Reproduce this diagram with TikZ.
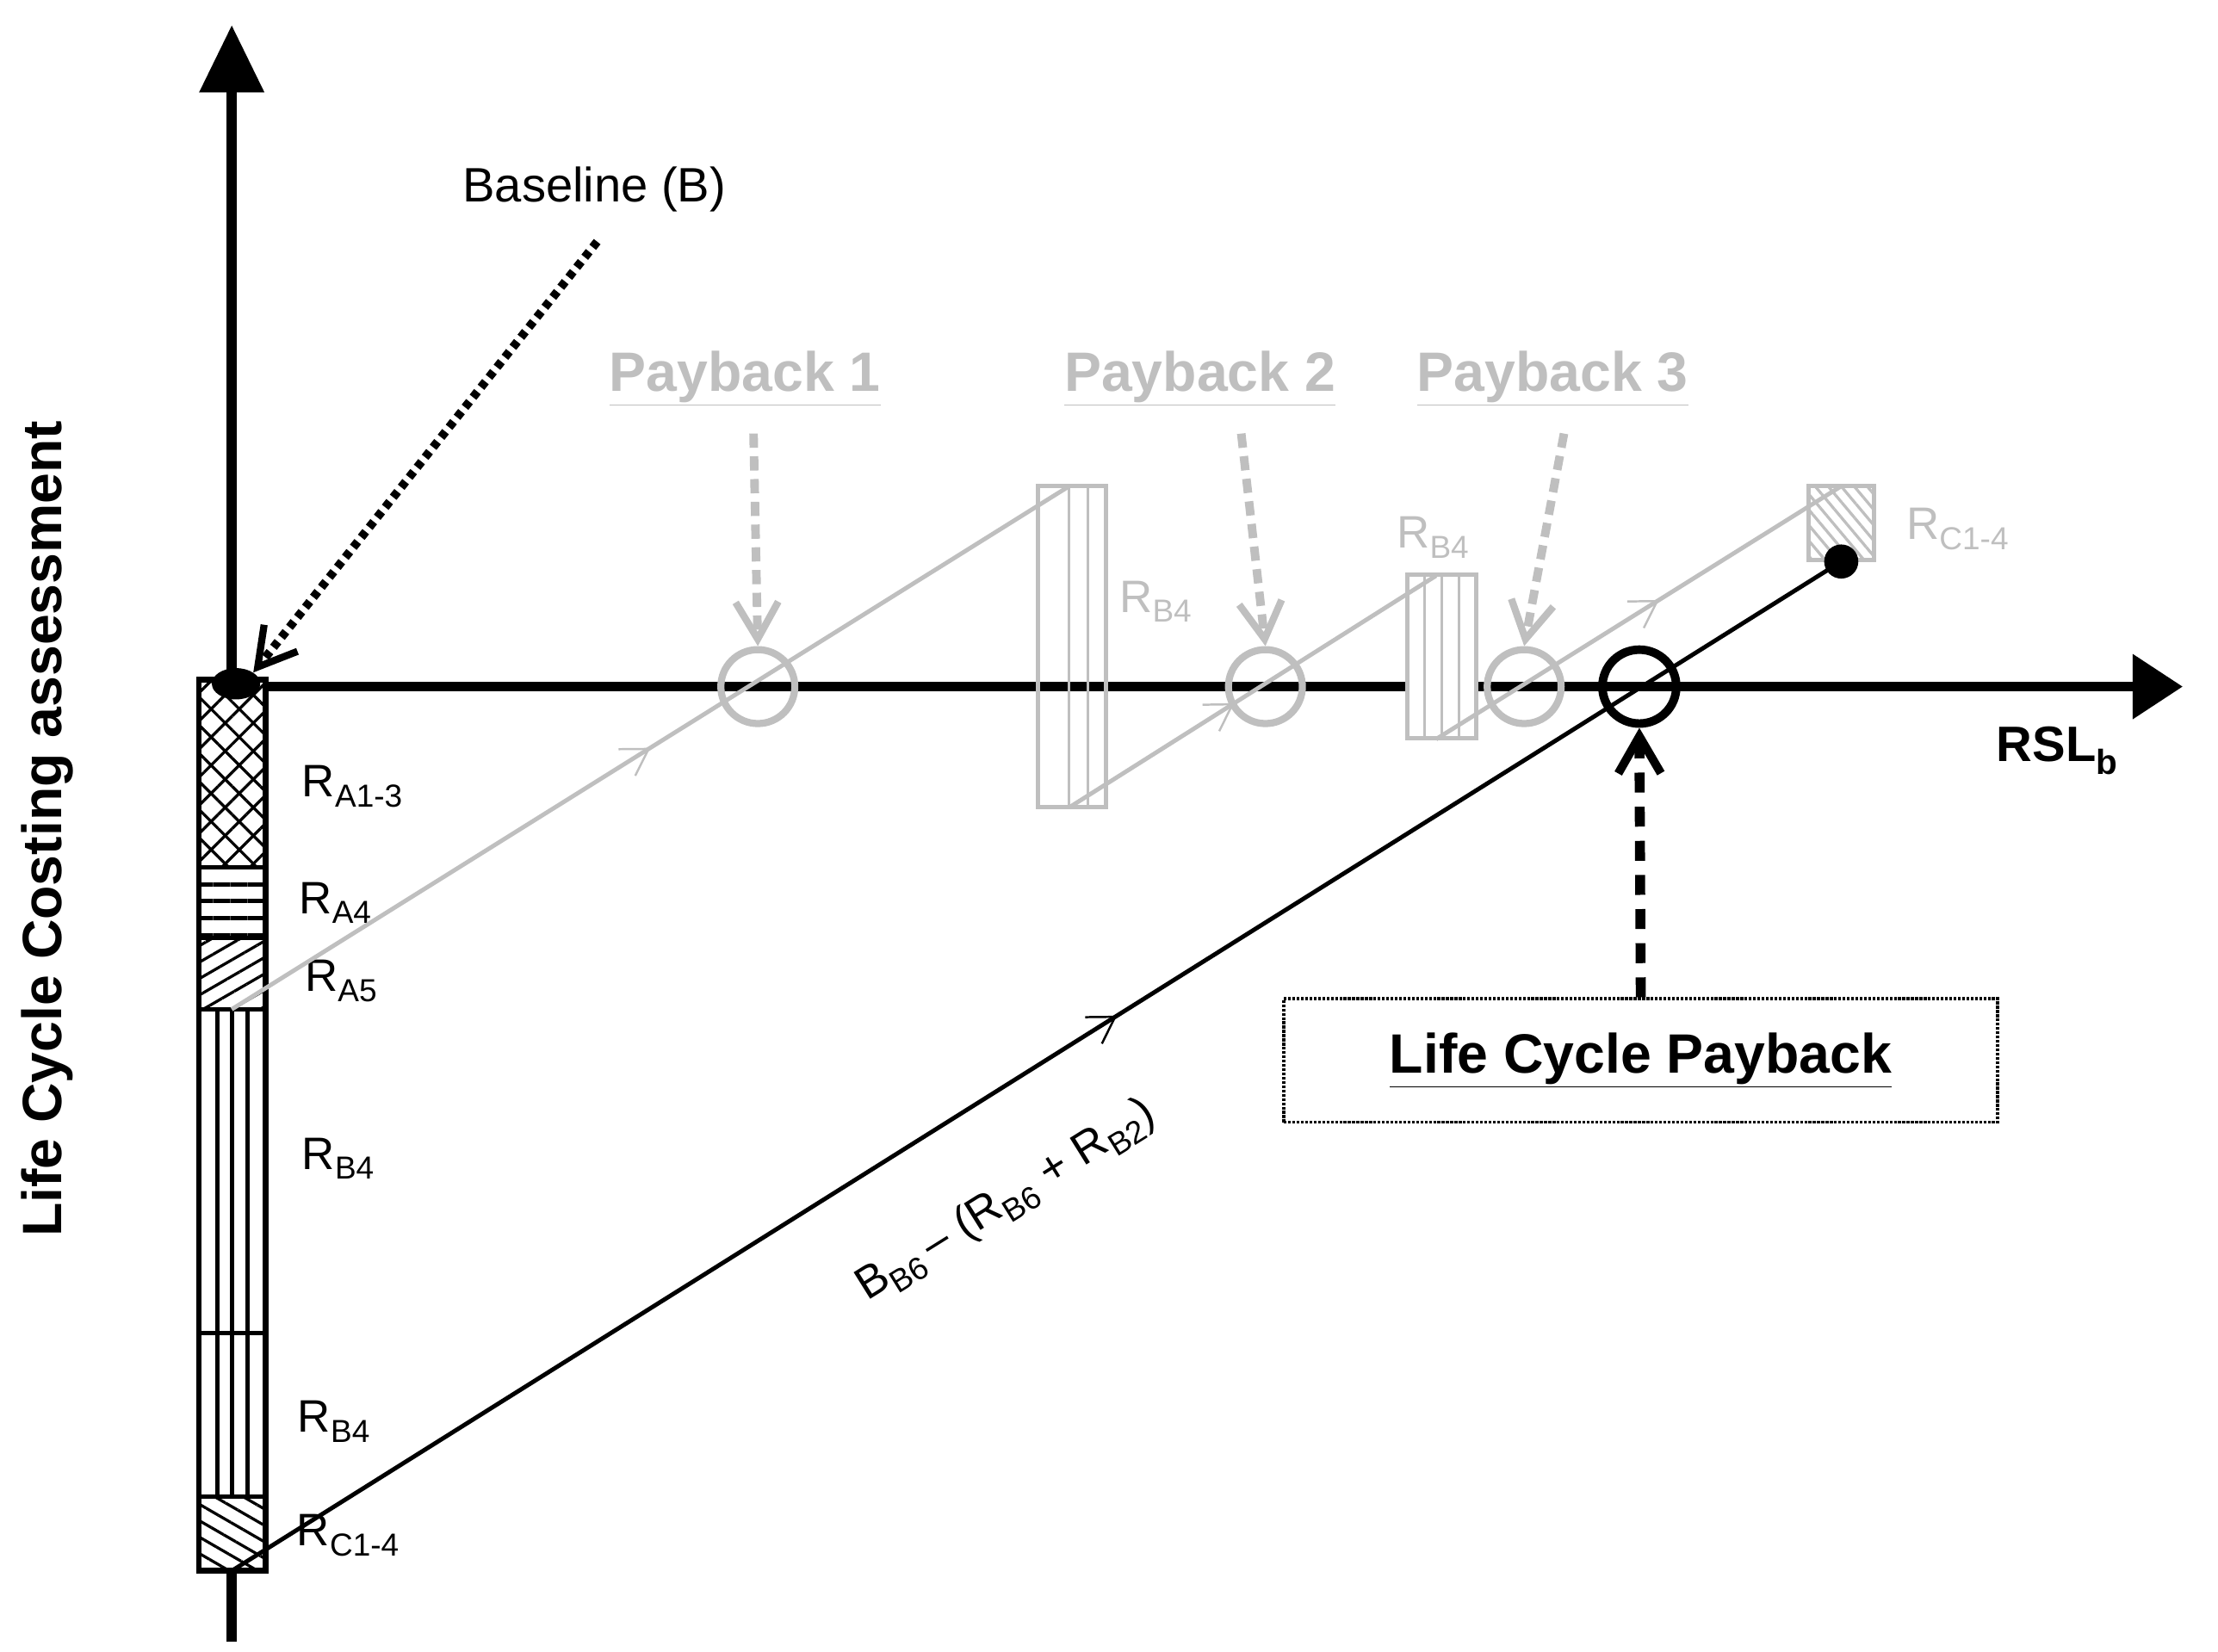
\documentclass[tikz,border=0pt]{standalone}
\usepackage{fontspec}
\setmainfont{Liberation Sans}
\usetikzlibrary{arrows.meta,patterns.meta,decorations.markings,shapes.geometric}
\definecolor{lg}{gray}{0.75}
\tikzset{
 midarrow/.style={postaction={decorate},decoration={markings,mark=at position #1 with {\arrow{Straight Barb[length=18pt,width=22pt,line width=1.5pt]}}}},
 lab/.style={font=\fontsize{32}{34}\selectfont,inner sep=0pt},
 glab/.style={lab,text=lg},
 pb/.style={font=\bfseries\fontsize{39}{40}\selectfont,text=lg,inner sep=2pt},
 gdash/.style={draw=lg,line width=6pt,dash pattern=on 10pt off 6pt,-{Straight Barb[length=26pt,width=30pt,line width=5pt]}},
 gcirc/.style={draw=lg,line width=5pt,circle,minimum size=52pt,inner sep=0pt},
}
\begin{document}
\begin{tikzpicture}[x=1pt,y=-1pt]
\useasboundingbox (0,0) rectangle (1560,1162);
% axes
\draw[line width=7pt] (163,1155) -- (163,60);
\fill (140,65) -- (163,18) -- (186,65) -- cycle;
\draw[line width=7pt] (163,483) -- (1505,483);
\fill (1500,460) -- (1535,483) -- (1500,506) -- cycle;
% column
\fill[white] (140,478) rectangle (187,1105);
\fill[pattern={Lines[angle=45,distance=14pt,line width=2pt]}] (140,478) rectangle (187,610);
\fill[pattern={Lines[angle=-45,distance=14pt,line width=2pt]}] (140,478) rectangle (187,610);
\fill[pattern={Lines[angle=0,distance=12pt,line width=3pt]}] (140,610) rectangle (187,660);
\fill[pattern={Lines[angle=30,distance=10pt,line width=2pt]}] (140,660) rectangle (187,710);
\foreach \x in {153,163,174} \draw[line width=3pt] (\x,710) -- (\x,1053);
\fill[pattern={Lines[angle=-30,distance=10pt,line width=2pt]}] (140,1053) rectangle (187,1105);
\draw[line width=3pt] (140,610) -- (187,610) (140,660) -- (187,660) (140,710) -- (187,710) (140,938) -- (187,938) (140,1053) -- (187,1053);
\draw[line width=4pt] (140,478) rectangle (187,1105);
\node[ellipse,fill,minimum width=34pt,minimum height=22pt,inner sep=0pt] (orig) at (166,481) {};
\node[lab] at (248,553) {R\textsubscript{A1-3}};
\node[lab] at (236,635) {R\textsubscript{A4}};
\node[lab] at (240,690) {R\textsubscript{A5}};
\node[lab] at (238,815) {R\textsubscript{B4}};
\node[lab] at (235,1000) {R\textsubscript{B4}};
\node[lab] at (245,1080) {R\textsubscript{C1-4}};
% gray rectangles
\node[draw=lg,line width=3pt,minimum width=48pt,minimum height=226pt,inner sep=0pt] (g1) at (754,455) {};
\foreach \x in {752,765} \draw[lg,line width=2pt] (\x,342) -- (\x,568);
\node[draw=lg,fill=white,line width=3pt,minimum width=48pt,minimum height=115pt,inner sep=0pt] (g2) at (1014,462) {};
\foreach \x in {1002,1014,1026} \draw[lg,line width=2pt] (\x,405) -- (\x,520);
\fill[pattern={Lines[angle=-50,distance=7pt,line width=2pt]},pattern color=lg] (1272,342) rectangle (1318,394);
\node[draw=lg,line width=3pt,minimum width=46pt,minimum height=52pt,inner sep=0pt] (g3) at (1295,368) {};
\node[glab] at (813,423) {R\textsubscript{B4}};
\node[glab] at (1008,378) {R\textsubscript{B4}};
\node[glab] at (1377,372) {R\textsubscript{C1-4}};
% gray path
\coordinate (s0) at (163,710);
\coordinate (t1) at (752,342);
\coordinate (s1) at (752,568);
\coordinate (t2) at (1010,405);
\coordinate (s2) at (1010,520);
\coordinate (t3) at (1295,342);
\draw[lg,line width=3pt,midarrow=0.5] (s0) -- (t1);
\draw[lg,line width=3pt,midarrow=0.45] (s1) -- (t2);
\draw[lg,line width=3pt,midarrow=0.55] (s2) -- (t3);
% circles
\node[gcirc] (c1) at (533,483) {};
\node[gcirc] (c2) at (890,483) {};
\node[gcirc] (c3) at (1072,483) {};
\node[draw,line width=6pt,circle,minimum size=52pt,inner sep=0pt] (c4) at (1153,483) {};
% payback labels
\node[pb] (p1) at (524,266) {\underline{Payback 1}};
\node[pb] (p2) at (844,266) {\underline{Payback 2}};
\node[pb] (p3) at (1092,266) {\underline{Payback 3}};
\coordinate (q1) at (530,305); \coordinate (q2) at (873,305); \coordinate (q3) at (1100,305);
\draw[gdash] (q1) -- (c1.north);
\draw[gdash] (q2) -- (c2.north);
\draw[gdash] (q3) -- (c3.north);
% black line
\coordinate (b0) at (163,1105);
\node[circle,fill,minimum size=24pt,inner sep=0pt] (b1) at (1295,395) {};
\draw[line width=3pt,midarrow=0.55] (b0) -- (b1.center);
\node[lab,rotate=32] at (708,845) {B\textsubscript{B6}\,– (R\textsubscript{B6} + R\textsubscript{B2})};
% baseline
\node[font=\fontsize{34}{36}\selectfont] (bl) at (418,133) {Baseline (B)};
\coordinate (bs) at (420,170);
\draw[line width=6pt,dash pattern=on 5pt off 4pt,-{Straight Barb[length=26pt,width=30pt,line width=5pt]}] (bs) -- (orig.north east);
% RSL
\node[font=\bfseries\fontsize{35}{36}\selectfont] at (1447,528) {RSL\textsubscript{b}};
% life cycle payback
\node[draw,densely dotted,line width=2pt,minimum width=502pt,minimum height=87pt,font=\bfseries\fontsize{39}{40}\selectfont] (lcp) at (1154,746) {\underline{Life Cycle Payback}};
\draw[line width=7pt,dash pattern=on 14pt off 10pt,-{Straight Barb[length=26pt,width=30pt,line width=6pt]}] (lcp.north) -- (c4.south);
% y label
\node[rotate=90,font=\bfseries\fontsize{39}{40}\selectfont] at (33,583) {Life Cycle Costing assessment};
\end{tikzpicture}
\end{document}
